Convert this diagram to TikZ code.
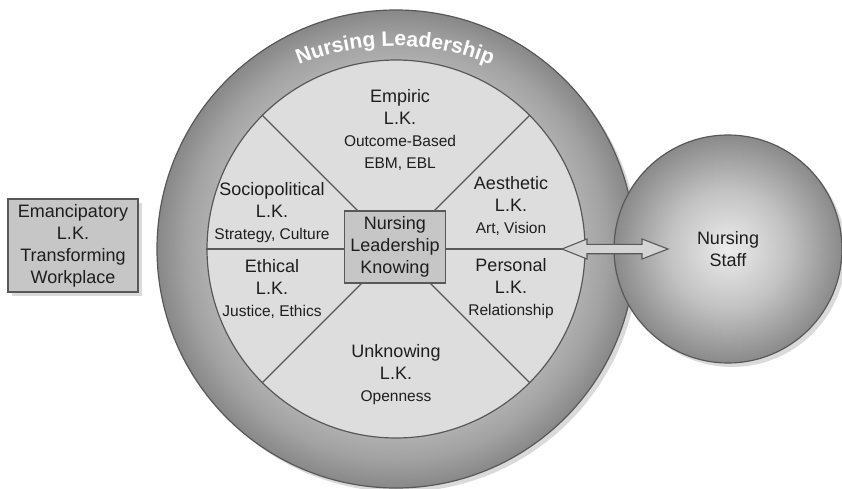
\documentclass[tikz,border=0pt]{standalone}
\usepackage{fontspec}
\setmainfont{Liberation Sans}
\usetikzlibrary{calc,shadows,decorations.text}
\definecolor{edgegray}{RGB}{88,88,88}
\definecolor{paleface}{RGB}{221,221,221}
\definecolor{boxgray}{RGB}{198,198,198}
\definecolor{shadowgray}{RGB}{218,218,218}
\definecolor{inkgray}{RGB}{30,30,30}
\definecolor{pipefill}{RGB}{212,212,212}
\definecolor{ringlight}{RGB}{176,176,176}
\definecolor{ringmid}{RGB}{162,162,162}
\definecolor{ringdark}{RGB}{136,136,136}
\definecolor{staffcenter}{RGB}{236,236,236}
\definecolor{staffmid}{RGB}{194,194,194}
\definecolor{staffedge}{RGB}{138,138,138}
\pgfdeclareradialshading{ringshade}{\pgfpoint{0bp}{0bp}}{color(0bp)=(ringlight); color(19.5bp)=(ringlight); color(22bp)=(ringmid); color(25bp)=(ringdark); color(50bp)=(ringdark)}
\pgfdeclareradialshading{staffshade}{\pgfpoint{0bp}{0bp}}{color(0bp)=(staffcenter); color(13bp)=(staffmid); color(25bp)=(staffedge); color(50bp)=(staffedge)}
\newcommand{\sublk}{\fontsize{15.5}{18}\selectfont}

\begin{document}
\begin{tikzpicture}[x=1pt,y=1pt]
    \tikzstyle{lk}=[align=center,text=inkgray,font=\fontsize{18}{22}\selectfont,inner sep=0pt]
    \tikzstyle{lkbox}=[lk,draw=edgegray,line width=1.3pt,fill=boxgray]
    \tikzstyle{ring}=[circle,draw=edgegray,line width=1.2pt,inner sep=0pt]
    \tikzstyle{divider}=[draw=edgegray,line width=1.2pt]
    \tikzstyle{pipe}=[draw=edgegray,line width=1.1pt,fill=pipefill,line join=miter]
    \tikzstyle{shade}=[drop shadow={shadow xshift=4pt,shadow yshift=-4pt,fill=shadowgray,opacity=1}]
    \useasboundingbox (0,0) rectangle (842,488);
    \node (lead)[ring,shade,minimum size=478,shading=ringshade] at (396,239) {};
    \node (core)[ring,minimum size=378,fill=paleface] at (396,239) {};
    \draw[divider] (core.center) -- (core.45);
    \draw[divider] (core.center) -- (core.135);
    \draw[divider] (core.center) -- (core.225);
    \draw[divider] (core.center) -- (core.315);
    \draw[divider] (core.center) -- (core.west);
    \coordinate (tipL) at (562,239);
    \coordinate (tipR) at (668,239);
    \draw[divider] (core.center) -- (tipL);
    \node (hub)[lkbox,minimum width=101,minimum height=72] at (395,241) {Nursing\\Leadership\\Knowing};
    \node (staff)[ring,lk,shade,minimum size=228,shading=staffshade] at (728,239) {Nursing\\Staff};
    \draw[pipe] (tipL) -- ++(25,10) -- ++(0,-5.3) -- ($(tipR)+(-26,4.7)$) -- ++(0,5.3) -- (tipR)
        -- ++(-26,-10) -- ++(0,5.3) -- ($(tipL)+(25,-4.7)$) -- ++(0,-5.3) -- cycle;
    \node (eman)[lkbox,shade,minimum width=130,minimum height=93] at (73,242.5) {Emancipatory\\L.K.\\Transforming\\Workplace};
    \node (empiric)[lk] at (400,358) {Empiric\\L.K.\\\sublk Outcome-Based\\\sublk EBM, EBL};
    \node (socio)[lk]   at (272,275) {Sociopolitical\\L.K.\\\sublk Strategy, Culture};
    \node (aesth)[lk]   at (511,282) {Aesthetic\\L.K.\\\sublk Art, Vision};
    \node (ethic)[lk]   at (272,199) {Ethical\\L.K.\\\sublk Justice, Ethics};
    \node (person)[lk]  at (511,199) {Personal\\L.K.\\\sublk Relationship};
    \node (unknow)[lk]  at (396,113) {Unknowing\\L.K.\\\sublk Openness};
    \coordinate (arcmid) at (395,188);
    \path[decorate,decoration={text along path,text align=center,
        text={|\fontsize{21}{21}\selectfont\bfseries\color{white}|Nursing Leadership}}]
        ($(arcmid)+(125:254)$) arc[start angle=125,end angle=55,radius=254pt];
\end{tikzpicture}
\end{document}
